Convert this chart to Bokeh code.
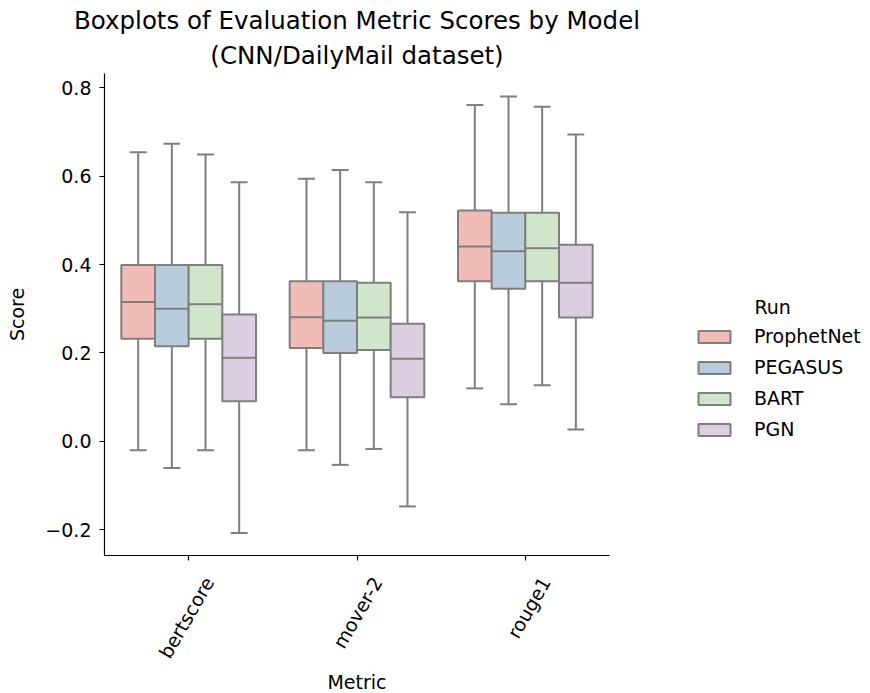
import math
from bokeh.plotting import figure
from bokeh.models import (ColumnDataSource, Range1d, FixedTicker, LinearAxis,
                          CustomJSTickFormatter, Legend, LegendItem, Title)
from bokeh.transform import dodge
from bokeh.embed import file_html
from bokeh.resources import INLINE

metrics = ["bertscore", "mover-2", "rouge1"]
models = ["ProphetNet", "PEGASUS", "BART", "PGN"]
colors = ["#f1bcb7", "#b9ccdd", "#cfe6ca", "#dccee1"]

# values per model, in the order of `metrics`
prophetnet_low = [-0.020, -0.020, 0.120]
prophetnet_q1 = [0.232, 0.211, 0.362]
prophetnet_med = [0.315, 0.281, 0.441]
prophetnet_q3 = [0.399, 0.362, 0.522]
prophetnet_high = [0.654, 0.594, 0.761]

pegasus_low = [-0.060, -0.053, 0.084]
pegasus_q1 = [0.215, 0.200, 0.345]
pegasus_med = [0.300, 0.273, 0.430]
pegasus_q3 = [0.399, 0.362, 0.517]
pegasus_high = [0.673, 0.614, 0.780]

bart_low = [-0.020, -0.017, 0.127]
bart_q1 = [0.232, 0.207, 0.362]
bart_med = [0.310, 0.280, 0.437]
bart_q3 = [0.399, 0.359, 0.517]
bart_high = [0.649, 0.586, 0.757]

pgn_low = [-0.207, -0.147, 0.027]
pgn_q1 = [0.091, 0.100, 0.280]
pgn_med = [0.189, 0.187, 0.359]
pgn_q3 = [0.287, 0.266, 0.445]
pgn_high = [0.586, 0.518, 0.694]

y_ticks = [-0.2, 0.0, 0.2, 0.4, 0.6, 0.8]

stats = {
    "ProphetNet": (prophetnet_low, prophetnet_q1, prophetnet_med, prophetnet_q3, prophetnet_high),
    "PEGASUS": (pegasus_low, pegasus_q1, pegasus_med, pegasus_q3, pegasus_high),
    "BART": (bart_low, bart_q1, bart_med, bart_q3, bart_high),
    "PGN": (pgn_low, pgn_q1, pgn_med, pgn_q3, pgn_high),
}

FONT = "DejaVu Sans"
GREY = "#7f7f7f"
positions = list(range(len(metrics)))

p = figure(x_range=Range1d(-0.5, len(metrics) - 0.5), y_range=Range1d(-0.258, 0.832),
           frame_width=505, frame_height=482,
           min_border_left=104, min_border_top=73, min_border_right=251,
           min_border_bottom=125,
           toolbar_location=None, output_backend="svg")
p.title = None
p.outline_line_color = None
p.xgrid.grid_line_color = None
p.ygrid.grid_line_color = None
p.background_fill_color = "white"
p.border_fill_color = "white"

t2 = Title(text="(CNN/DailyMail dataset)", align="center", text_font=FONT,
           text_font_size="24.5px", text_font_style="normal", text_color="black",
           standoff=8, offset=0)
t1 = Title(text="Boxplots of Evaluation Metric Scores by Model", align="center",
           text_font=FONT, text_font_size="24.5px", text_font_style="normal",
           text_color="black", standoff=0)
p.add_layout(t2, "above")
p.add_layout(t1, "above")

n = len(models)
width = 0.8 / n
items = []
for i, m in enumerate(models):
    low, q1, med, q3, high = stats[m]
    src = ColumnDataSource(dict(pos=positions, low=low, q1=q1, med=med, q3=q3, high=high))
    off = -0.4 + width * (i + 0.5)
    xc = dodge("pos", off)
    xl = dodge("pos", off - width / 4)
    xr = dodge("pos", off + width / 4)
    bl = dodge("pos", off - width / 2)
    br = dodge("pos", off + width / 2)
    p.segment(x0=xc, y0="low", x1=xc, y1="q1", source=src, line_color=GREY, line_width=2)
    p.segment(x0=xc, y0="q3", x1=xc, y1="high", source=src, line_color=GREY, line_width=2)
    p.segment(x0=xl, y0="low", x1=xr, y1="low", source=src, line_color=GREY, line_width=2)
    p.segment(x0=xl, y0="high", x1=xr, y1="high", source=src, line_color=GREY, line_width=2)
    r = p.vbar(x=xc, width=width, bottom="q1", top="q3", source=src,
               fill_color=colors[i], line_color=GREY, line_width=2)
    p.segment(x0=bl, y0="med", x1=br, y1="med", source=src, line_color=GREY, line_width=2)
    items.append(LegendItem(label=m, renderers=[r]))


def style_axis(ax):
    ax.axis_line_color = "black"
    ax.axis_line_width = 1.2
    ax.major_tick_line_color = "black"
    ax.major_tick_line_width = 1.2
    ax.major_tick_in = 0
    ax.major_tick_out = 5
    ax.minor_tick_line_color = None
    ax.major_label_text_font = FONT
    ax.major_label_text_font_size = "19px"
    ax.major_label_text_color = "black"
    ax.axis_label_text_font = FONT
    ax.axis_label_text_font_size = "19px"
    ax.axis_label_text_font_style = "normal"
    ax.axis_label_text_color = "black"
    ax.major_label_standoff = 8


for ax in p.xaxis + p.yaxis:
    style_axis(ax)

p.yaxis.ticker = FixedTicker(ticks=y_ticks)
p.yaxis.formatter = CustomJSTickFormatter(code="return tick.toFixed(1).replace('-', '\u2212');")
p.yaxis.axis_label = "Score"
p.yaxis.axis_label_standoff = 14

# main x axis: spine and ticks only
p.xaxis.ticker = FixedTicker(ticks=positions)
p.xaxis.major_label_text_color = None
p.xaxis.major_label_standoff = 0

# label axis: rotated category names, placed like matplotlib's centred rotation
shift = 0.12
p.extra_x_ranges = {"labels": Range1d(-0.5 - shift, len(metrics) - 0.5 - shift)}
lab_ax = LinearAxis(x_range_name="labels", ticker=FixedTicker(ticks=positions),
                    formatter=CustomJSTickFormatter(args=dict(names=metrics),
                                                    code="return names[Math.round(tick)];"))
style_axis(lab_ax)
lab_ax.axis_line_color = None
lab_ax.major_tick_line_color = None
lab_ax.major_tick_out = 0
lab_ax.major_label_standoff = 18
lab_ax.major_label_orientation = math.pi / 3
lab_ax.axis_label = "Metric"
lab_ax.axis_label_standoff = 1
p.add_layout(lab_ax, "below")

legend = Legend(items=items, title="\u00a0" * 10 + "Run", title_text_font=FONT,
                title_text_font_size="19px", title_standoff=7,
                title_text_font_style="normal", title_text_color="black",
                label_text_font=FONT, label_text_font_size="19px", label_text_color="black",
                glyph_width=40, glyph_height=15, label_standoff=20, spacing=9,
                border_line_color=None, background_fill_color="white",
                background_fill_alpha=1, margin=0, padding=10, location=(85, 115))
p.add_layout(legend, "right")

open("out.html", "w").write(file_html(p, INLINE))
